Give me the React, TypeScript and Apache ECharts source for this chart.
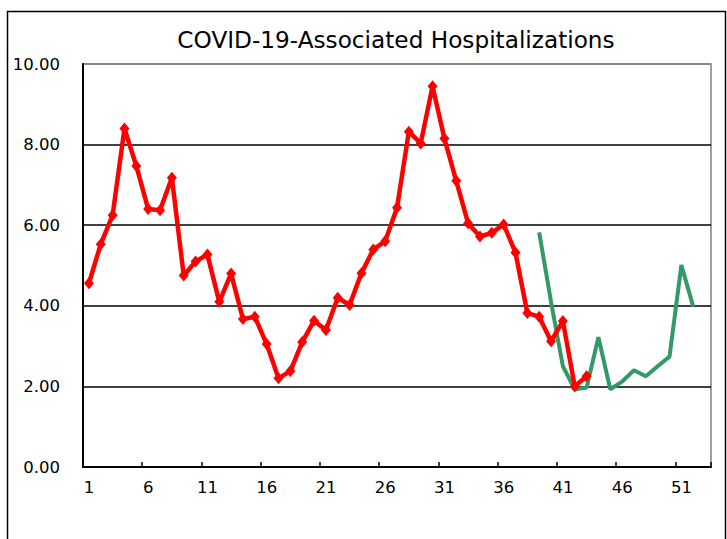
import React, { useEffect, useRef } from "react";
import * as echarts from "echarts";

const weeks: string[] = Array.from({ length: 53 }, (_, i) => String(i + 1));

const season1: (number | null)[] = [
  4.56, 5.53, 6.25, 8.40, 7.47, 6.40, 6.37, 7.18, 4.75, 5.10,
  5.27, 4.10, 4.80, 3.67, 3.73, 3.05, 2.20, 2.38, 3.10, 3.63,
  3.40, 4.20, 4.02, 4.81, 5.40, 5.60, 6.43, 8.32, 8.03, 9.45,
  8.15, 7.10, 6.05, 5.72, 5.81, 6.02, 5.32, 3.82, 3.73, 3.12,
  3.62, 2.00, 2.25,
];

const season2: (number | null)[] = [
  ...Array(38).fill(null),
  5.82, 4.10, 2.50, 1.93, 1.97, 3.22, 1.93, 2.12, 2.40, 2.25,
  2.50, 2.74, 5.01, 3.98,
];

const yTicks = [0, 2, 4, 6, 8, 10];

const FONT = "'DejaVu Sans', sans-serif";

export default function App() {
  const ref = useRef<HTMLDivElement>(null);
  useEffect(() => {
    if (!ref.current) return;
    const chart = echarts.init(ref.current, undefined, { renderer: "svg" });
    chart.setOption({
      animation: false,
      backgroundColor: "#ffffff",
      grid: {
        left: 83,
        right: 16,
        top: 64,
        bottom: 72,
        show: true,
        borderColor: "#808080",
        borderWidth: 1.5,
      },
      graphic: [
        {
          type: "rect",
          shape: { x: 7.5, y: 11.5, width: 718, height: 560 },
          style: { fill: "none", stroke: "#000", lineWidth: 1.5 },
          silent: true,
        },
        {
          type: "text",
          x: 396,
          y: 39,
          style: {
            text: "COVID-19-Associated Hospitalizations",
            fill: "#000",
            font: `23.2px ${FONT}`,
            textAlign: "center",
            textVerticalAlign: "middle",
          },
        },
      ],
      xAxis: {
        type: "category",
        data: weeks,
        boundaryGap: true,
        axisLine: { show: true, lineStyle: { color: "#000", width: 2 } },
        axisTick: {
          show: true,
          inside: true,
          interval: 4,
          length: 5,
          lineStyle: { color: "#000", width: 1.5 },
        },
        axisLabel: {
          interval: 4,
          color: "#000",
          fontSize: 16.5,
          fontFamily: FONT,
          margin: 12,
        },
        splitLine: { show: false },
      },
      yAxis: {
        type: "value",
        min: yTicks[0],
        max: yTicks[yTicks.length - 1],
        interval: 2,
        axisLine: { show: true, lineStyle: { color: "#000", width: 2 } },
        axisTick: { show: false },
        axisLabel: {
          color: "#000",
          fontSize: 16.5,
          fontFamily: FONT,
          margin: 23,
          formatter: (v: number) => v.toFixed(2),
        },
        splitLine: {
          show: true,
          lineStyle: {
            color: ["#000", "#000", "#000", "#000", "#000", "#808080"],
            width: 1.5,
          },
        },
      },
      series: [
        {
          type: "line",
          name: "2019-20",
          data: season1,
          connectNulls: false,
          lineStyle: { color: "#ff0000", width: 4.5 },
          itemStyle: { color: "#ff0000" },
          symbol: "diamond",
          symbolSize: [10, 12],
          showAllSymbol: true,
          z: 3,
        },
        {
          type: "line",
          name: "2020-21",
          data: season2,
          connectNulls: false,
          lineStyle: { color: "#339966", width: 4 },
          itemStyle: { color: "#339966" },
          symbol: "none",
          z: 2,
        },
      ],
    });
    return () => chart.dispose();
  }, []);
  return (
    <div
      ref={ref}
      style={{ position: "fixed", left: 0, top: 0, width: 727, height: 539 }}
    />
  );
}
